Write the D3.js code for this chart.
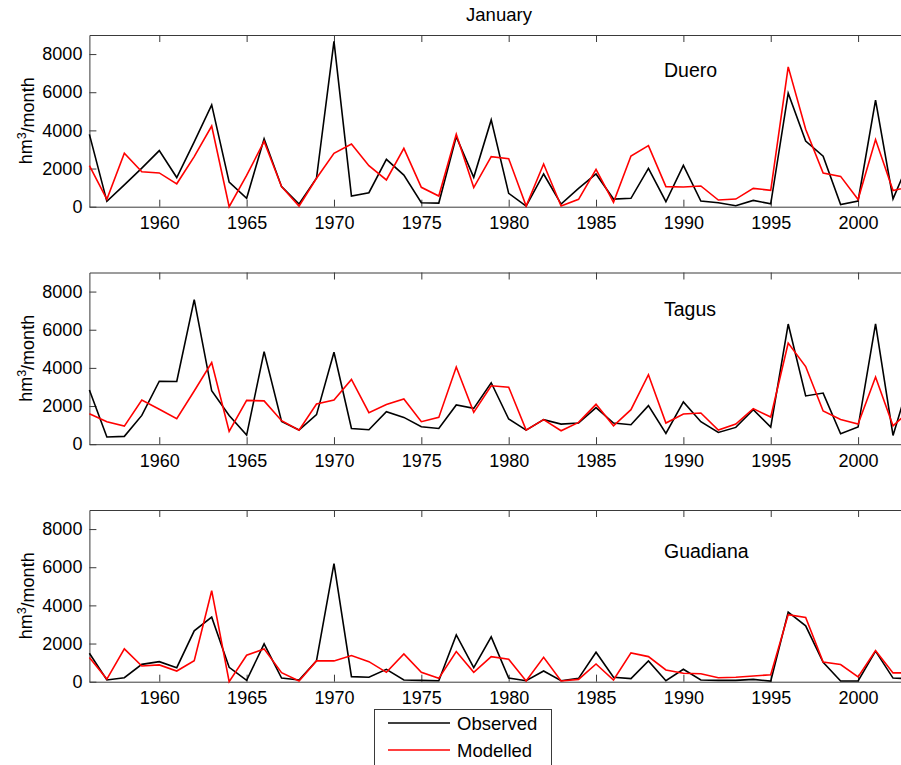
<!DOCTYPE html>
<html>
<head>
<meta charset="utf-8">
<script src="https://cdn.jsdelivr.net/npm/d3@7"></script>
<style>
  body { margin: 0; background: #fff; }
  svg { display: block; font-family: "Liberation Sans", Arial, sans-serif; }
</style>
</head>
<body>
<div id="container"></div>
<script>
// January flows, 1956-2003 (hm3/month)
const years = d3.range(1956, 2004);

const dueroObserved = [3790, 280, 1145, 2025, 2940, 1530, 3400, 5340, 1290, 440, 3560, 1050, 140, 1500, 8665, 560,
  735, 2485, 1660, 210, 190, 3675, 1540, 4550, 700, 35, 1715, 140, 960, 1715, 400, 440, 2010, 260, 2170, 300,
  210, 50, 330, 150, 5950, 3440, 2650, 110, 300, 5590, 410, 2550];
const dueroModelled = [2150, 390, 2800, 1830, 1770, 1200, 2625, 4230, 0, 1640, 3420, 1050, 30, 1490, 2800, 3290,
  2150, 1400, 3060, 1015, 560, 3800, 1000, 2625, 2520, 35, 2240, 35, 385, 1960, 230, 2660, 3200, 1050, 1030, 1085,
  350, 400, 960, 860, 7330, 4060, 1765, 1590, 375, 3520, 850, 1050];

const tagusObserved = [2840, 380, 410, 1510, 3300, 3290, 7580, 2800, 1500, 480, 4850, 1195, 740, 1550, 4820, 825,
  755, 1705, 1405, 915, 825, 2055, 1880, 3220, 1320, 740, 1285, 1055, 1110, 1915, 1110, 1020, 2020, 565, 2215, 1180,
  615, 880, 1810, 900, 6300, 2530, 2680, 550, 900, 6310, 460, 3500];
const tagusModelled = [1600, 1180, 950, 2320, 1830, 1340, 2790, 4280, 670, 2295, 2270, 1230, 740, 2110, 2320, 3395,
  1655, 2075, 2375, 1180, 1405, 4045, 1670, 3060, 2990, 740, 1285, 705, 1145, 2090, 965, 1810, 3640, 1110, 1580, 1635,
  740, 1055, 1865, 1425, 5300, 4070, 1740, 1300, 1055, 3520, 960, 1800];

const guadianaObserved = [1490, 90, 210, 910, 1050, 735, 2665, 3385, 755, 70, 1980, 190, 90, 1100, 6190, 265,
  230, 650, 90, 70, 50, 2455, 735, 2350, 190, 50, 560, 50, 175, 1545, 230, 160, 1090, 50, 650, 90,
  70, 70, 120, 30, 3645, 2930, 1020, 40, 40, 1600, 190, 150];
const guadianaModelled = [1265, 140, 1720, 825, 880, 560, 1105, 4770, 0, 1385, 1720, 475, 35, 1090, 1090, 1370,
  1050, 490, 1455, 490, 175, 1580, 490, 1315, 1175, 35, 1280, 35, 120, 930, 90, 1510, 1315, 615, 440, 420,
  210, 230, 300, 360, 3515, 3365, 1030, 900, 250, 1635, 460, 460];

const basins = ["Duero", "Tagus", "Guadiana"];
const observed = [dueroObserved, tagusObserved, guadianaObserved];
const modelled = [dueroModelled, tagusModelled, guadianaModelled];
const xTicks = [1960, 1965, 1970, 1975, 1980, 1985, 1990, 1995, 2000];
const yTicks = [0, 2000, 4000, 6000, 8000];
const seriesNames = ["Observed", "Modelled"];
const seriesColors = ["#000000", "#ff0000"];

const W = 901, H = 765;
const panelTops = [35, 272.5, 510];
const panelH = 171.7;
const left = 89.4;
const pxPerYear = 17.47;

const svg = d3.select("#container").append("svg")
  .attr("width", W)
  .attr("height", H);

// x scale runs past the right edge of the picture (the figure is cropped there)
const x = d3.scaleLinear()
  .domain([1956, 2005])
  .range([left, left + pxPerYear * (2005 - 1956)]);

svg.append("text")
  .attr("x", 499)
  .attr("y", 21)
  .attr("text-anchor", "middle")
  .style("font-size", "18.5px")
  .text("January");

basins.forEach((name, i) => {
  const top = panelTops[i];
  const y = d3.scaleLinear().domain([0, 9000]).range([top + panelH, top]);
  const g = svg.append("g");

  // bottom axis, ticks pointing inward
  g.append("g")
    .attr("transform", "translate(0," + (top + panelH) + ")")
    .call(d3.axisBottom(x).tickValues(xTicks).tickFormat(d3.format("d"))
      .tickSizeInner(-7).tickSizeOuter(0).tickPadding(10))
    .call(a => a.selectAll("text").style("font-size", "18px").attr("fill", "#000"));

  // top border with ticks
  g.append("g")
    .attr("transform", "translate(0," + top + ")")
    .call(d3.axisTop(x).tickValues(xTicks).tickFormat("")
      .tickSizeInner(-7).tickSizeOuter(0));

  // left axis
  g.append("g")
    .attr("transform", "translate(" + left + ",0)")
    .call(d3.axisLeft(y).tickValues(yTicks).tickFormat(d3.format("d"))
      .tickSizeInner(-7).tickSizeOuter(0).tickPadding(7))
    .call(a => a.selectAll("text").style("font-size", "18px").attr("fill", "#000"));

  g.selectAll(".domain, .tick line").attr("stroke", "#3a3a3a");

  // y label
  const ylab = g.append("text")
    .attr("transform", "translate(32," + (top + panelH / 2) + ") rotate(-90)")
    .attr("text-anchor", "middle")
    .style("font-size", "18px");
  ylab.append("tspan").text("hm");
  ylab.append("tspan").attr("dy", "-0.45em").style("font-size", "12.5px").text("3");
  ylab.append("tspan").attr("dy", "0.45em").text("/month");

  // basin name
  g.append("text")
    .attr("x", 664)
    .attr("y", top + [42, 43, 48][i])
    .style("font-size", "19.5px")
    .text(name);

  const line = d3.line()
    .x((d, k) => x(years[k]))
    .y(d => y(d));

  g.append("path")
    .datum(observed[i])
    .attr("fill", "none")
    .attr("stroke", seriesColors[0])
    .attr("stroke-width", 1.6)
    .attr("d", line);

  g.append("path")
    .datum(modelled[i])
    .attr("fill", "none")
    .attr("stroke", seriesColors[1])
    .attr("stroke-width", 1.6)
    .attr("d", line);
});

// legend
const legend = svg.append("g").attr("transform", "translate(374,709)");
legend.append("rect")
  .attr("x", 0.5).attr("y", 0.5)
  .attr("width", 177).attr("height", 70)
  .attr("fill", "#fff")
  .attr("stroke", "#3a3a3a");
seriesNames.forEach((s, k) => {
  const ly = 14 + k * 27;
  legend.append("line")
    .attr("x1", 14).attr("x2", 76)
    .attr("y1", ly).attr("y2", ly)
    .attr("stroke", seriesColors[k])
    .attr("stroke-width", 1.6);
  legend.append("text")
    .attr("x", 83).attr("y", ly + 6.5)
    .style("font-size", "18.5px")
    .text(s);
});
</script>
</body>
</html>
